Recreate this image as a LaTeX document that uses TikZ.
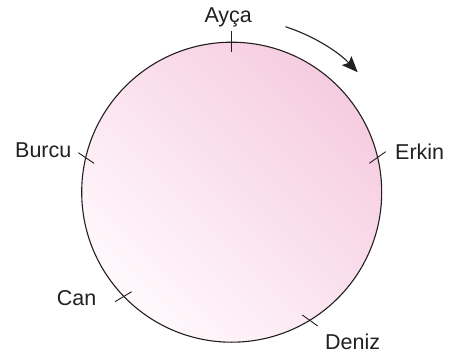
\documentclass[tikz,border=0pt]{standalone}
\usepackage{fontspec}
\setmainfont{Liberation Sans}
\usetikzlibrary{arrows.meta}
\definecolor{ink}{HTML}{231F20}
\definecolor{pinkdark}{HTML}{F6CCE0}
\definecolor{pinklight}{HTML}{FFF9FC}
\begin{document}
\begin{tikzpicture}[x=1pt,y=1pt,
  lbl/.style={anchor=base west,inner sep=0pt,font=\fontsize{21.5}{24}\selectfont,text=ink},
  tick/.style={draw=ink,line width=0.9pt},
  rim/.style={draw=ink,line width=1.1pt}]
\useasboundingbox (0,0) rectangle (453,354);
\coordinate (C) at (231.7,161.8);
% disc
\path[shading=axis,bottom color=pinklight,top color=pinkdark,shading angle=-45] (C) circle[radius=150];
\node[rim,circle,minimum size=300pt,inner sep=0pt] (disc) at (C) {};
% ticks
\coordinate (a1) at (231.7,323); \coordinate (a2) at (231.7,302);
\coordinate (b1) at (78.3,201.3); \coordinate (b2) at (94,190.7);
\coordinate (e1) at (369.3,190.7); \coordinate (e2) at (385.7,202.3);
\coordinate (c1) at (115,52.3); \coordinate (c2) at (131.7,62.3);
\coordinate (d1) at (302.3,39); \coordinate (d2) at (317.7,28);
\draw[tick] (a1) -- (a2);
\draw[tick] (b1) -- (b2);
\draw[tick] (e1) -- (e2);
\draw[tick] (c1) -- (c2);
\draw[tick] (d1) -- (d2);
% labels
\node[lbl] (ayca) at (204.3,331.7) {Ayça};
\node[lbl] (burcu) at (15,196.7) {Burcu};
\node[lbl] (erkin) at (395,194.7) {Erkin};
\node[lbl] (can) at (56.7,48.3) {Can};
\node[lbl] (deniz) at (325,4.7) {Deniz};
% rotation arrow
\coordinate (s) at ([shift={(72:174)}]C);
\draw[ink,line width=1.1pt,-{Stealth[length=16pt,width=13pt,inset=3pt]}] (s) arc[start angle=72,end angle=43.6,radius=174];
\end{tikzpicture}
\end{document}
